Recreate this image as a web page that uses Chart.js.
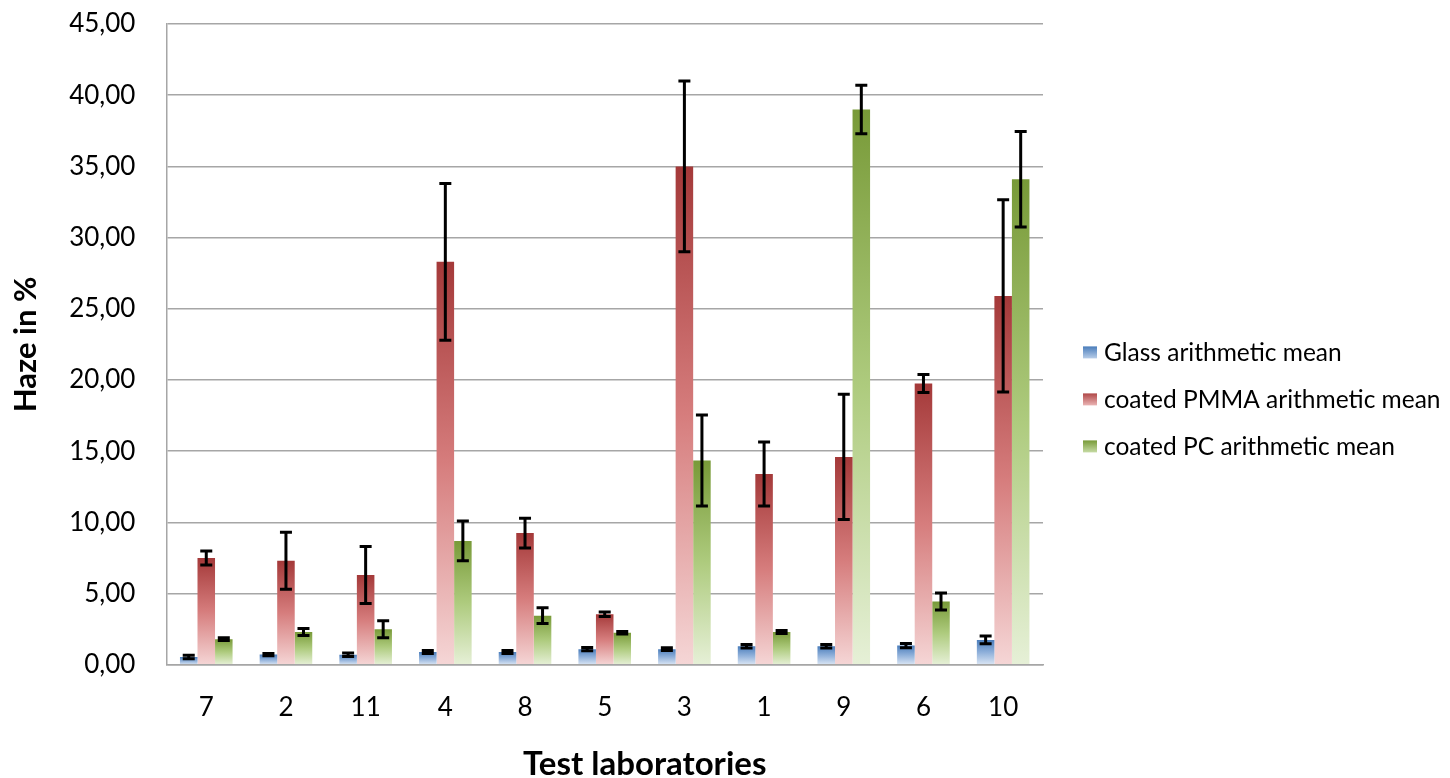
<!DOCTYPE html>
<html>
<head>
<meta charset="utf-8">
<script src="https://cdn.jsdelivr.net/npm/chart.js@4/dist/chart.umd.min.js"></script>
<style>
  html, body { margin: 0; padding: 0; background: #fff; }
  #wrap { position: relative; width: 1450px; height: 778px; }
</style>
</head>
<body>
<div id="wrap"><canvas id="haze-chart"></canvas></div>
<script>
// test laboratories, in the order shown
const labs = ["7", "2", "11", "4", "8", "5", "3", "1", "9", "6", "10"];

// arithmetic means (haze in %)
const glassMean = [0.55, 0.72, 0.70, 0.90, 0.90, 1.10, 1.10, 1.30, 1.30, 1.35, 1.75];
const pmmaMean  = [7.5, 7.3, 6.3, 28.3, 9.25, 3.55, 35.0, 13.4, 14.6, 19.75, 25.9];
const pcMean    = [1.8, 2.3, 2.5, 8.7, 3.45, 2.25, 14.35, 2.3, 39.0, 4.45, 34.1];

// error bar half-widths
const glassErr = [0.12, 0.08, 0.12, 0.10, 0.10, 0.12, 0.10, 0.12, 0.12, 0.15, 0.28];
const pmmaErr  = [0.5, 2.0, 2.0, 5.5, 1.05, 0.15, 6.0, 2.25, 4.4, 0.63, 6.75];
const pcErr    = [0.1, 0.25, 0.6, 1.4, 0.55, 0.08, 3.2, 0.1, 1.7, 0.6, 3.35];

const yTicksMax = 45;
const yStep = 5;

const FONT = "Lato, 'Open Sans', sans-serif";

let canvas = document.getElementById("haze-chart");
canvas.style.width = "1450px";
canvas.style.height = "778px";
let c = canvas.getContext("2d");

// vertical gradient per bar: dark at the top, pale at the base
function barGradient(top, mid, bottom) {
    return function (ctx) {
        const chart = ctx.chart;
        if (!chart.chartArea || ctx.raw === undefined) return mid;
        const y = chart.scales.y;
        const yTop = y.getPixelForValue(ctx.raw);
        const yBase = y.getPixelForValue(0);
        if (!isFinite(yTop) || yBase - yTop < 1) return mid;
        const g = chart.ctx.createLinearGradient(0, yTop, 0, yBase);
        g.addColorStop(0, top);
        g.addColorStop(0.5, mid);
        g.addColorStop(1, bottom);
        return g;
    };
}

// draws the black error bars from the err arrays
const errorBars = {
    id: "errorBars",
    afterDatasetsDraw(chart) {
        const ctx = chart.ctx;
        const y = chart.scales.y;
        ctx.save();
        ctx.strokeStyle = "#000";
        ctx.lineWidth = 3;
        chart.data.datasets.forEach((ds, i) => {
            const meta = chart.getDatasetMeta(i);
            meta.data.forEach((bar, j) => {
                const v = ds.data[j], e = ds.err[j];
                const yHi = y.getPixelForValue(v + e);
                const yLo = y.getPixelForValue(v - e);
                const x = bar.x, cap = 6;
                ctx.beginPath();
                ctx.moveTo(x, yHi); ctx.lineTo(x, yLo);
                ctx.moveTo(x - cap, yHi); ctx.lineTo(x + cap, yHi);
                ctx.moveTo(x - cap, yLo); ctx.lineTo(x + cap, yLo);
                ctx.stroke();
            });
        });
        ctx.restore();
    }
};

// x axis title (a bit right of the plot centre) and the legend on the right
const legendColors = [["#4a7dbb", "#b8cde8"], ["#b04848", "#eab4b4"], ["#789a38", "#c6dba4"]];

const extras = {
    id: "extras",
    afterDraw(chart) {
        const a = chart.chartArea;
        const ctx = chart.ctx;
        ctx.save();
        ctx.fillStyle = "#000";
        ctx.font = "bold 33px " + FONT;
        ctx.textAlign = "center";
        ctx.textBaseline = "middle";
        ctx.fillText("Test laboratories", (a.left + a.right) / 2 + 40, 764);

        const mid = (a.top + a.bottom) / 2 + 55;
        ctx.font = "24.5px " + FONT;
        ctx.textAlign = "left";
        chart.data.datasets.forEach((ds, i) => {
            const yy = mid + (i - 1) * 47;
            const bx = a.right + 40;
            const g = ctx.createLinearGradient(0, yy - 6, 0, yy + 6);
            g.addColorStop(0, legendColors[i][0]);
            g.addColorStop(1, legendColors[i][1]);
            ctx.fillStyle = g;
            ctx.fillRect(bx, yy - 6, 14, 12);
            ctx.fillStyle = "#000";
            ctx.fillText(ds.label, bx + 21, yy + 1);
        });
        ctx.restore();
    }
};

var chart = new Chart(c, {
    type: "bar",
    data: {
        labels: labs,
        datasets: [{
            label: "Glass arithmetic mean",
            data: glassMean,
            err: glassErr,
            backgroundColor: barGradient("#4a7dbb", "#8fb0da", "#dbe6f4")
        }, {
            label: "coated PMMA arithmetic mean",
            data: pmmaMean,
            err: pmmaErr,
            backgroundColor: barGradient("#a43939", "#d67d7d", "#f5d6d6")
        }, {
            label: "coated PC arithmetic mean",
            data: pcMean,
            err: pcErr,
            backgroundColor: barGradient("#789a38", "#aecb7e", "#e6f0d7")
        }]
    },
    options: {
        responsive: false,
        animation: false,
        layout: { padding: { top: 24, left: 3, right: 407, bottom: 36 } },
        datasets: { bar: { categoryPercentage: 0.66, barPercentage: 1.0, borderWidth: 0 } },
        plugins: {
            legend: { display: false },
            tooltip: { enabled: false }
        },
        scales: {
            x: {
                grid: { display: false },
                border: { color: "#a6a6a6", width: 1.5 },
                ticks: { font: { family: FONT, size: 26 }, color: "#000", padding: 19 }
            },
            y: {
                min: 0,
                max: yTicksMax,
                ticks: {
                    stepSize: yStep,
                    font: { family: FONT, size: 26 },
                    color: "#000",
                    padding: 0,
                    callback: v => v.toFixed(2).replace(".", ",")
                },
                grid: { color: "#a6a6a6", lineWidth: 1.5, tickLength: 31, tickColor: "rgba(0,0,0,0)" },
                border: { color: "#a6a6a6", width: 1.5 },
                title: {
                    display: true,
                    text: "Haze in %",
                    font: { family: FONT, size: 31, weight: "bold" },
                    color: "#000",
                    padding: { bottom: 25 }
                }
            }
        }
    },
    plugins: [errorBars, extras]
});
</script>
</body>
</html>
